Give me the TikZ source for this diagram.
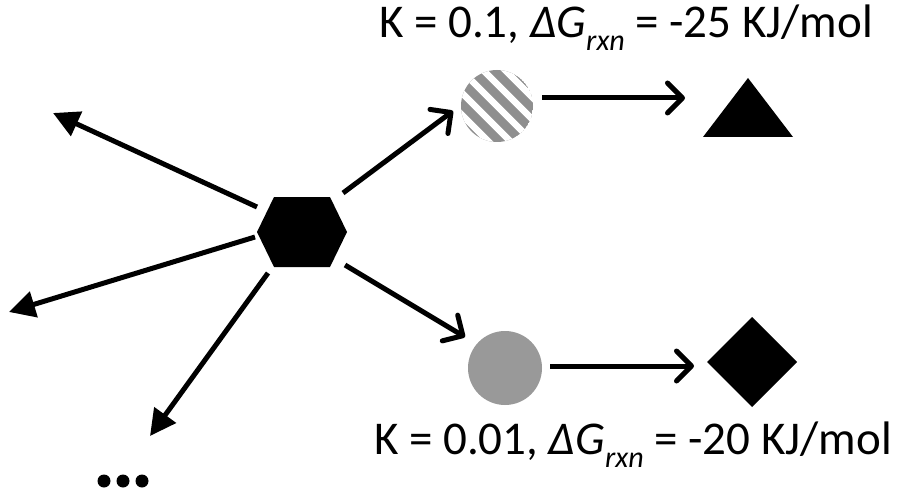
\documentclass[tikz,border=0pt]{standalone}
\usepackage{fontspec}
\setmainfont{Carlito}
\usetikzlibrary{arrows.meta}
\newcommand{\mysubs}[1]{\raisebox{-0.28em}{\fontsize{30}{34}\selectfont\itshape #1}}
\begin{document}
\begin{tikzpicture}[x=1pt,y=-1pt,
  conn/.style={line width=5pt},
  barb/.style={conn,-{Straight Barb[length=15pt,width=30pt,line width=5pt,round]}},
  tri/.style={conn,-{Triangle[length=26pt,width=26pt]}},
  lbl/.style={font=\fontsize{47}{54}\selectfont,inner sep=0pt}]
\useasboundingbox (0,0) rectangle (916,492);
% shapes
\fill (257,232) -- (274,197) -- (330,197) -- (347,232) -- (330,267) -- (274,267) -- cycle;
\coordinate (hex) at (302,232);
\coordinate (sc) at (497,106);
\begin{scope}
  \clip (sc) circle (36);
  \fill[gray!88] (sc) circle (36);
  \foreach \c in {-88,-66,...,88}
    \draw[white,line width=6.5pt] ([shift={(\c-50,-50)}]sc) -- ([shift={(\c+50,50)}]sc);
\end{scope}
\coordinate (gc) at (505,368);
\fill[gray!80] (gc) circle (37);
\fill (748,78) -- (793,137) -- (703,137) -- cycle;
\fill (752,317) -- (797,362) -- (752,407) -- (707,362) -- cycle;
% arrow end points
\coordinate (a1s) at (343,193); \coordinate (a1e) at (453,111);
\coordinate (a2s) at (542,98);  \coordinate (a2e) at (685,98);
\coordinate (a3s) at (345,265); \coordinate (a3e) at (465,337);
\coordinate (a4s) at (550,366); \coordinate (a4e) at (694,366);
\coordinate (l1s) at (257,207); \coordinate (l1e) at (53,113);
\coordinate (l2s) at (255,237); \coordinate (l2e) at (9,312);
\coordinate (l3s) at (268,273); \coordinate (l3e) at (150,436);
\draw[barb] (a1s) -- (a1e);
\draw[barb] (a2s) -- (a2e);
\draw[barb] (a3s) -- (a3e);
\draw[barb] (a4s) -- (a4e);
\draw[tri] (l1s) -- (l1e);
\draw[tri] (l2s) -- (l2e);
\draw[tri] (l3s) -- (l3e);
% dots
\foreach \x in {104,123,142} \fill (\x,481) circle (6.5);
% labels
\node[lbl] (top) at (626,28) {K = 0.1, \textit{ΔG}\mysubs{rxn} = -25 KJ/mol};
\node[lbl] (bot) at (633,445) {K = 0.01, \textit{ΔG}\mysubs{rxn} = -20 KJ/mol};
\end{tikzpicture}
\end{document}
